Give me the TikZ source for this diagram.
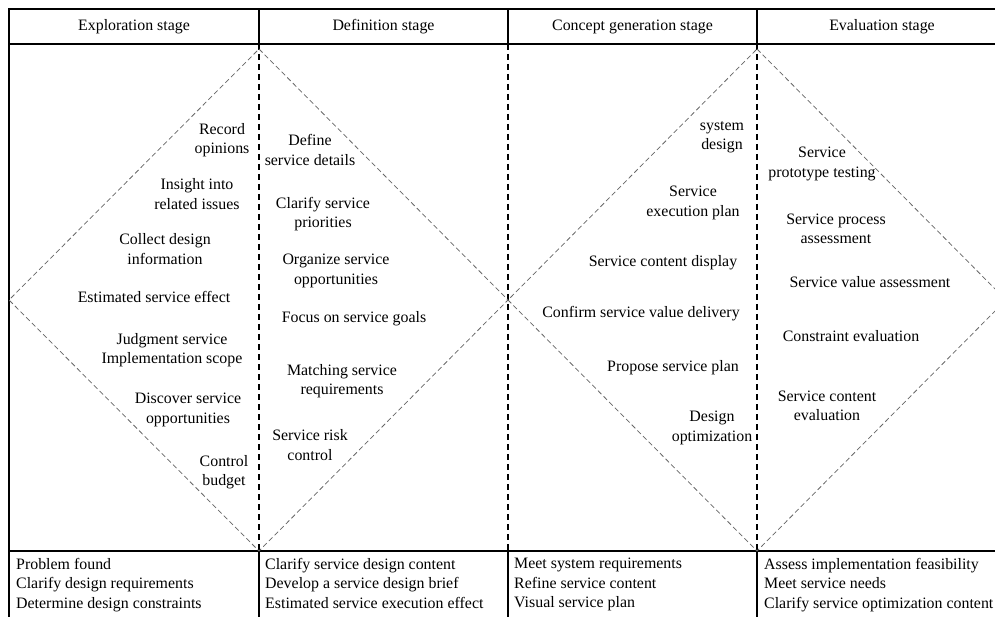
\documentclass[tikz,border=0pt]{standalone}
\usepackage{fontspec}
\setmainfont{Liberation Serif}
\begin{document}
\begin{tikzpicture}[x=1pt,y=-1pt,
  every node/.style={font=\fontsize{15.9}{19.2}\selectfont, inner sep=0pt, align=center},
  rule/.style={line width=1.2pt, black},
  divider/.style={line width=1.3pt, black, dash pattern=on 6pt off 4pt},
  funnel/.style={line width=0.75pt, black!60, dash pattern=on 5pt off 3pt},
  foot/.style={anchor=north west, align=left, font=\fontsize{15.9}{19.6}\selectfont}]
\useasboundingbox (0,0) rectangle (995,617);
\clip (0,0) rectangle (995,617);

% table frame
\draw[rule] (9,617) -- (9,9) -- (1007,9) -- (1007,617);
\draw[rule] (9,44) -- (1007,44);
\draw[rule] (9,551) -- (1007,551);
\foreach \x in {259,508,757}{
  \draw[rule] (\x,9) -- (\x,44);
  \draw[divider] (\x,44) -- (\x,551);
  \draw[rule] (\x,551) -- (\x,617);
}

% diverge / converge diamonds
\draw[funnel] (259,49) -- (508,300) -- (259,551) -- (9,300) -- cycle;
\draw[funnel] (757,49) -- (1006,300) -- (757,551) -- (508,300) -- cycle;

% stage headings
\node (h1) at (134,27) {Exploration stage};
\node (h2) at (383.5,27) {Definition stage};
\node (h3) at (632.5,27) {Concept generation stage};
\node (h4) at (882,27) {Evaluation stage};

% exploration stage
\node (e1) at (222,140) {Record\\opinions};
\node (e2) at (197,194) {Insight into\\related issues};
\node (e3) at (165,249) {Collect design\\information};
\node (e4) at (154,297) {Estimated service effect};
\node (e5) at (172,350) {Judgment service\\Implementation scope};
\node (e6) at (188,410) {Discover service\\opportunities};
\node (e7) at (224,472) {Control\\budget};

% definition stage
\node (d1) at (310,150) {Define\\service details};
\node (d2) at (323,214) {Clarify service\\priorities};
\node (d3) at (336,271) {Organize service\\opportunities};
\node (d4) at (354,319) {Focus on service goals};
\node (d5) at (342,381) {Matching service\\requirements};
\node (d6) at (310,445) {Service risk\\control};

% concept generation stage
\node (c1) at (722,137) {system\\design};
\node (c2) at (693,203) {Service\\execution plan};
\node (c3) at (663,263) {Service content display};
\node (c4) at (641,314) {Confirm service value delivery};
\node (c5) at (673,368) {Propose service plan};
\node (c6) at (712,428) {Design\\optimization};

% evaluation stage
\node (v1) at (822,164) {Service\\prototype testing};
\node (v2) at (836,229) {Service process\\assessment};
\node (v3) at (870,282) {Service value assessment};
\node (v4) at (851,336) {Constraint evaluation};
\node (v5) at (827,406) {Service content\\evaluation};

% stage outcomes
\node[foot] (o1) at (16,558) {Problem found\\Clarify design requirements\\Determine design constraints};
\node[foot] (o2) at (265,558) {Clarify service design content\\Develop a service design brief\\Estimated service execution effect};
\node[foot] (o3) at (514,558) {Meet system requirements\\Refine service content\\Visual service plan};
\node[foot] (o4) at (764,558) {Assess implementation feasibility\\Meet service needs\\Clarify service optimization content};
\end{tikzpicture}
\end{document}
